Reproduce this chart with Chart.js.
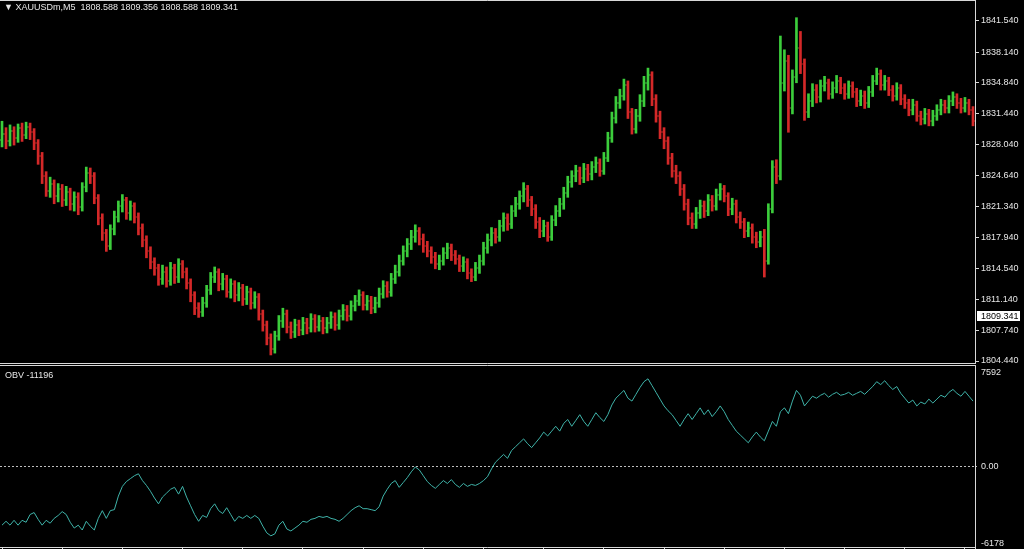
<!DOCTYPE html>
<html><head><meta charset="utf-8">
<script src="https://cdn.jsdelivr.net/npm/chart.js@4.4.0/dist/chart.umd.min.js"></script>
<style>
html,body{margin:0;padding:0;background:#000;width:1024px;height:549px;overflow:hidden;}
canvas{position:absolute;left:0;}
#price{top:0;}
#obv{top:365px;}
.lbl{position:absolute;color:#e6e6e6;font:9px "Liberation Sans",Arial,sans-serif;white-space:pre;line-height:10px;}
</style></head><body>
<canvas id="price" width="1024" height="364"></canvas>
<canvas id="obv" width="1024" height="184"></canvas>
<div class="lbl" style="left:4px;top:2px">▼ XAUUSDm,M5  1808.588 1809.356 1808.588 1809.341</div>
<div class="lbl" style="left:5px;top:370px">OBV -11196</div>
<script>
const opens = [1828.6,1829.2,1828.4,1829.5,1828.8,1829.9,1829.1,1830.0,1829.4,1828.2,
1826.8,1824.6,1823.0,1823.8,1822.4,1823.2,1822.0,1822.9,1821.6,1822.3,
1821.2,1823.4,1825.0,1824.6,1822.2,1820.0,1818.4,1817.0,1818.8,1820.2,
1821.4,1822.0,1820.6,1821.3,1820.2,1819.0,1817.6,1816.4,1815.2,1814.6,
1813.4,1814.2,1813.2,1814.6,1813.6,1815.0,1814.2,1813.0,1811.6,1810.2,
1809.8,1810.8,1812.2,1813.6,1814.2,1812.8,1813.4,1812.0,1812.8,1811.6,
1812.4,1811.2,1812.0,1810.8,1811.4,1809.6,1808.4,1807.0,1805.8,1807.2,
1808.8,1809.6,1808.2,1807.6,1808.4,1807.8,1808.6,1808.0,1809.0,1808.2,
1808.8,1808.0,1808.6,1809.2,1808.4,1809.4,1810.0,1809.4,1810.4,1811.0,
1811.6,1810.6,1811.0,1810.2,1810.8,1811.8,1812.6,1812.0,1813.4,1814.2,
1815.4,1816.4,1817.2,1818.0,1818.6,1817.8,1817.0,1816.4,1815.8,1815.0,
1815.4,1816.2,1816.8,1816.0,1815.6,1814.8,1815.2,1814.0,1813.6,1814.6,
1815.4,1816.8,1817.6,1818.4,1818.0,1819.2,1820.0,1819.4,1820.8,1821.6,
1822.4,1823.2,1822.0,1821.0,1819.6,1818.6,1819.2,1818.0,1819.8,1820.8,
1821.6,1822.8,1824.0,1824.6,1825.2,1824.4,1825.4,1824.8,1825.6,1826.0,
1825.2,1826.6,1828.8,1831.0,1832.6,1833.4,1834.6,1831.6,1829.8,1831.2,
1832.8,1834.8,1835.6,1833.0,1831.2,1829.4,1828.4,1826.6,1825.2,1824.6,
1823.2,1821.6,1820.0,1819.4,1820.6,1821.4,1820.8,1822.0,1821.4,1822.6,
1823.2,1822.4,1821.0,1821.6,1820.2,1819.6,1818.6,1819.0,1818.0,1817.4,
1818.0,1815.4,1821.0,1825.6,1824.6,1834.8,1837.2,1832.0,1835.4,1838.6,
1836.8,1831.6,1832.8,1834.0,1833.2,1834.4,1834.8,1833.6,1834.2,1835.0,
1834.2,1833.6,1834.4,1833.8,1832.8,1833.4,1832.6,1833.8,1835.0,1835.8,
1834.6,1835.0,1834.0,1833.4,1834.2,1833.0,1832.6,1831.8,1832.4,1831.2,
1830.8,1831.4,1830.6,1831.2,1831.8,1832.4,1832.0,1832.8,1833.2,1832.6,
1832.0,1832.6,1831.8];

const highs = [1830.6,1829.9,1830.2,1830.0,1830.3,1830.4,1830.5,1830.4,1829.8,1828.6,
1827.2,1825.1,1824.5,1824.2,1823.8,1823.7,1823.5,1823.3,1822.9,1822.8,
1823.9,1825.6,1825.5,1825.0,1822.6,1820.5,1818.8,1819.3,1820.8,1821.9,
1822.6,1822.3,1821.9,1821.7,1820.6,1819.4,1818.1,1816.9,1815.7,1815.0,
1814.9,1814.7,1815.2,1815.0,1815.6,1815.4,1814.6,1813.4,1812.0,1810.8,
1811.4,1812.7,1814.1,1814.7,1814.5,1814.0,1813.8,1813.4,1813.2,1813.0,
1812.8,1812.6,1812.4,1812.0,1811.8,1810.0,1808.8,1807.4,1807.7,1809.4,
1810.2,1810.0,1808.7,1809.0,1808.9,1809.2,1809.1,1809.6,1809.5,1809.4,
1809.2,1809.2,1809.8,1809.7,1810.0,1810.6,1810.5,1811.0,1811.6,1812.2,
1812.0,1811.6,1811.5,1811.4,1812.4,1813.2,1813.1,1814.0,1814.9,1816.0,
1817.0,1817.8,1818.7,1819.3,1819.0,1818.3,1817.5,1816.9,1816.3,1816.0,
1816.8,1817.3,1817.2,1816.5,1816.0,1815.8,1815.6,1814.5,1815.2,1816.0,
1817.4,1818.3,1819.0,1818.9,1819.8,1820.6,1820.5,1821.4,1822.3,1823.0,
1823.9,1823.6,1822.4,1821.5,1820.1,1819.8,1819.6,1820.3,1821.4,1822.2,
1823.4,1824.6,1825.2,1825.8,1825.6,1826.0,1825.9,1826.2,1826.7,1826.5,
1827.2,1829.4,1831.6,1833.3,1834.1,1835.2,1835.0,1832.0,1831.9,1833.5,
1835.5,1836.4,1836.0,1833.5,1831.7,1829.9,1828.9,1827.1,1825.8,1825.1,
1823.7,1822.1,1820.6,1821.2,1822.0,1821.9,1822.6,1822.5,1823.2,1823.8,
1823.6,1822.8,1822.2,1822.0,1820.7,1820.0,1819.6,1819.4,1818.5,1818.6,
1818.8,1821.6,1826.3,1826.4,1839.9,1838.4,1837.8,1836.2,1841.9,1840.4,
1837.4,1833.6,1834.7,1834.6,1835.1,1835.5,1835.2,1834.9,1835.6,1835.4,
1834.7,1835.0,1834.9,1834.2,1834.0,1833.9,1834.4,1835.6,1836.4,1836.2,
1835.6,1835.4,1834.5,1834.8,1834.6,1833.5,1833.0,1833.0,1832.8,1831.7,
1832.0,1831.9,1831.8,1832.4,1833.0,1832.9,1833.4,1833.8,1833.6,1833.1,
1833.2,1833.0,1832.2];

const lows = [1827.8,1827.6,1827.9,1828.0,1828.3,1828.4,1828.7,1828.6,1827.5,1825.9,
1823.8,1822.4,1822.3,1821.6,1821.8,1821.3,1821.4,1820.9,1820.8,1820.4,
1820.8,1822.9,1823.8,1821.6,1819.3,1817.6,1816.4,1816.6,1818.2,1819.6,
1820.7,1819.9,1819.8,1819.5,1818.2,1816.9,1815.7,1814.5,1813.8,1812.7,
1812.8,1812.5,1812.7,1812.9,1813.0,1813.5,1812.3,1810.9,1809.5,1809.2,
1809.3,1810.3,1811.7,1813.0,1812.1,1812.2,1811.4,1811.3,1810.9,1811.0,
1810.5,1810.6,1810.1,1810.2,1808.9,1807.7,1806.2,1805.1,1805.3,1806.7,
1808.1,1807.5,1806.9,1807.0,1807.2,1807.3,1807.4,1807.6,1807.6,1807.7,
1807.4,1807.5,1808.0,1807.8,1807.9,1808.9,1808.8,1808.9,1809.9,1810.5,
1810.0,1810.0,1809.6,1809.7,1810.3,1811.3,1811.4,1811.5,1812.9,1813.7,
1814.9,1815.8,1816.6,1817.4,1817.1,1816.3,1815.8,1815.1,1814.5,1814.4,
1814.9,1815.6,1815.4,1815.0,1814.2,1814.2,1813.4,1813.1,1813.2,1814.0,
1814.9,1816.2,1817.0,1817.3,1817.5,1818.6,1818.7,1818.9,1820.2,1821.0,
1821.8,1821.3,1820.3,1818.9,1817.9,1818.0,1817.5,1817.6,1819.2,1820.2,
1821.0,1822.3,1823.4,1824.0,1823.7,1823.9,1824.1,1824.2,1825.0,1824.6,
1824.8,1826.2,1828.3,1830.4,1832.0,1832.9,1830.9,1829.2,1829.3,1830.6,
1832.2,1834.0,1832.3,1830.5,1828.7,1827.6,1825.9,1824.5,1823.8,1822.5,
1820.9,1819.3,1818.9,1818.9,1820.0,1820.1,1820.3,1820.8,1820.9,1822.0,
1821.8,1820.3,1820.4,1819.5,1818.9,1817.9,1818.0,1817.3,1816.8,1816.9,
1813.6,1815.0,1820.6,1823.8,1824.2,1833.9,1829.4,1831.4,1834.8,1835.8,
1830.7,1831.0,1832.2,1832.6,1832.7,1833.9,1833.0,1833.1,1833.7,1833.6,
1833.0,1833.1,1833.2,1832.2,1832.3,1832.0,1832.1,1833.3,1834.6,1834.0,
1834.0,1833.4,1832.8,1832.9,1832.4,1832.0,1831.2,1831.3,1830.6,1830.2,
1830.3,1830.1,1830.1,1830.7,1831.3,1831.5,1831.5,1832.3,1832.0,1831.5,
1831.6,1831.3,1830.1];

const closes = [1829.2,1828.4,1829.5,1828.8,1829.9,1829.1,1830.0,1829.4,1828.2,1826.8,
1824.6,1823.0,1823.8,1822.4,1823.2,1822.0,1822.9,1821.6,1822.3,1821.2,
1823.4,1825.0,1824.6,1822.2,1820.0,1818.4,1817.0,1818.8,1820.2,1821.4,
1822.0,1820.6,1821.3,1820.2,1819.0,1817.6,1816.4,1815.2,1814.6,1813.4,
1814.2,1813.2,1814.6,1813.6,1815.0,1814.2,1813.0,1811.6,1810.2,1809.8,
1810.8,1812.2,1813.6,1814.2,1812.8,1813.4,1812.0,1812.8,1811.6,1812.4,
1811.2,1812.0,1810.8,1811.4,1809.6,1808.4,1807.0,1805.8,1807.2,1808.8,
1809.6,1808.2,1807.6,1808.4,1807.8,1808.6,1808.0,1809.0,1808.2,1808.8,
1808.0,1808.6,1809.2,1808.4,1809.4,1810.0,1809.4,1810.4,1811.0,1811.6,
1810.6,1811.0,1810.2,1810.8,1811.8,1812.6,1812.0,1813.4,1814.2,1815.4,
1816.4,1817.2,1818.0,1818.6,1817.8,1817.0,1816.4,1815.8,1815.0,1815.4,
1816.2,1816.8,1816.0,1815.6,1814.8,1815.2,1814.0,1813.6,1814.6,1815.4,
1816.8,1817.6,1818.4,1818.0,1819.2,1820.0,1819.4,1820.8,1821.6,1822.4,
1823.2,1822.0,1821.0,1819.6,1818.6,1819.2,1818.0,1819.8,1820.8,1821.6,
1822.8,1824.0,1824.6,1825.2,1824.4,1825.4,1824.8,1825.6,1826.0,1825.2,
1826.6,1828.8,1831.0,1832.6,1833.4,1834.6,1831.6,1829.8,1831.2,1832.8,
1834.8,1835.6,1833.0,1831.2,1829.4,1828.4,1826.6,1825.2,1824.6,1823.2,
1821.6,1820.0,1819.4,1820.6,1821.4,1820.8,1822.0,1821.4,1822.6,1823.2,
1822.4,1821.0,1821.6,1820.2,1819.6,1818.6,1819.0,1818.0,1817.4,1818.0,
1815.4,1821.0,1825.6,1824.6,1834.8,1837.2,1832.0,1835.4,1838.6,1836.8,
1831.6,1832.8,1834.0,1833.2,1834.4,1834.8,1833.6,1834.2,1835.0,1834.2,
1833.6,1834.4,1833.8,1832.8,1833.4,1832.6,1833.8,1835.0,1835.8,1834.6,
1835.0,1834.0,1833.4,1834.2,1833.0,1832.6,1831.8,1832.4,1831.2,1830.8,
1831.4,1830.6,1831.2,1831.8,1832.4,1832.0,1832.8,1833.2,1832.6,1832.0,
1832.6,1831.8,1830.6];

const obv = [-4698,-4385,-4698,-4306,-4698,-4306,-4463,-3837,-3680,-4228,
-4698,-4306,-4541,-4150,-3915,-3602,-3837,-4463,-4933,-4698,
-5090,-4385,-4776,-5090,-4150,-3524,-4150,-3524,-3445,-2349,
-1566,-1175,-940,-705,-548,-1096,-1488,-1958,-2506,-2975,
-2427,-2114,-1801,-1644,-2192,-1566,-2427,-3132,-3837,-4385,
-3915,-4072,-3367,-2975,-3524,-3758,-3289,-3837,-4385,-3993,
-4150,-3915,-4150,-3915,-4150,-4776,-5324,-5559,-5403,-4698,
-4385,-5011,-5168,-4933,-4698,-4385,-4463,-4228,-4150,-3993,
-4072,-3993,-4150,-4228,-4385,-4150,-3837,-3524,-3289,-3132,
-3367,-3367,-3445,-3524,-3210,-2349,-1801,-1331,-1096,-1644,
-1253,-861,-392,0,-235,-705,-1175,-1488,-1723,-1409,
-1096,-1331,-1018,-1409,-1644,-1331,-1566,-1409,-1488,-1331,
-1096,-783,-157,392,705,1018,705,1331,1644,1958,
2271,1879,1566,1958,2349,2819,2506,2897,3289,2897,
3524,3837,3289,3758,4228,3680,3289,3837,4385,3993,
3680,4228,5011,5559,5873,6186,5559,5324,5873,6421,
6890,7125,6577,6029,5481,4933,4541,4228,3758,3289,
3837,4307,3837,4307,4776,4228,4620,4072,4463,4933,
4463,3837,3367,2897,2584,2271,1958,2427,2819,2427,
2114,2897,3680,3289,4463,4776,4307,5324,6186,5794,
4933,5324,5716,5559,5794,5951,5638,5873,6029,5794,
5873,6029,5794,5951,6107,5873,6186,6499,6890,6656,
6969,6577,6264,6499,5951,5559,5168,5403,4933,5246,
5090,5481,5168,5481,5794,5638,6029,6264,5951,5716,
6107,5716,5324];

const priceTicks = [1841.54,1838.14,1834.84,1831.44,1828.04,1824.64,1821.34,1817.94,1814.54,1811.14,1807.74,1804.44];
const obvTicks = [7592, 0, -6178];
const obvTickLabels = ['7592', '0.00', '-6178'];
const currentPrice = 1809.341;

Chart.defaults.font.family = '"Liberation Sans", Arial, sans-serif';
Chart.defaults.font.size = 9;
Chart.defaults.color = '#e6e6e6';

const upColor = '#3ccd3c', downColor = '#d42828', frameColor = '#d8d8d8';
const barColors = closes.map((c, i) => c >= opens[i] ? upColor : downColor);
const labels = closes.map((_, i) => i);

const noPad = s => { s.paddingTop = 0; s.paddingBottom = 0; s.paddingLeft = 0; s.paddingRight = 0; };

const framePlugin = {
  id: 'frame',
  afterDraw(chart) {
    const {ctx, chartArea: a} = chart;
    ctx.save();
    ctx.strokeStyle = frameColor; ctx.lineWidth = 1;
    ctx.beginPath();
    ctx.moveTo(0, a.top - 0.5); ctx.lineTo(a.right + 0.5, a.top - 0.5);
    ctx.moveTo(0, a.bottom + 0.5); ctx.lineTo(a.right + 0.5, a.bottom + 0.5);
    ctx.moveTo(a.right + 0.5, 0); ctx.lineTo(a.right + 0.5, chart.height);
    ctx.stroke();
    ctx.restore();
  }
};

const ohlcTicks = {
  id: 'ohlcTicks',
  afterDatasetsDraw(chart) {
    const meta = chart.getDatasetMeta(0), ys = chart.scales.y, ctx = chart.ctx;
    ctx.save();
    meta.data.forEach((el, i) => {
      ctx.fillStyle = barColors[i];
      const x = el.x;
      ctx.fillRect(x - 2, Math.round(ys.getPixelForValue(opens[i])) - 0.5, 1, 1);
      ctx.fillRect(x + 1, Math.round(ys.getPixelForValue(closes[i])) - 0.5, 1, 1);
    });
    ctx.restore();
  }
};

const priceTag = {
  id: 'priceTag',
  afterDraw(chart) {
    const ys = chart.scales.y, ctx = chart.ctx;
    const y = Math.round(ys.getPixelForValue(currentPrice));
    ctx.save();
    ctx.fillStyle = '#ffffff';
    ctx.fillRect(ys.left + 2, y - 5, 43, 10);
    ctx.fillStyle = '#000000';
    ctx.font = '9px "Liberation Sans", Arial, sans-serif';
    ctx.textBaseline = 'middle';
    ctx.fillText(currentPrice.toFixed(3), ys.left + 6, y + 0.5);
    ctx.restore();
  }
};

new Chart(document.getElementById('price'), {
  type: 'bar',
  data: {
    labels,
    datasets: [{
      data: lows.map((l, i) => [l, highs[i]]),
      backgroundColor: barColors,
      borderWidth: 0,
      barThickness: 2
    }]
  },
  options: {
    responsive: false, animation: false, devicePixelRatio: 1,
    layout: {padding: {top: 1, bottom: 1, left: 0, right: 0}},
    plugins: {legend: {display: false}, tooltip: {enabled: false}},
    scales: {
      x: {display: false, offset: true},
      y: {
        position: 'right', min: 1804.222, max: 1843.722,
        afterBuildTicks: s => { s.ticks = priceTicks.map(v => ({value: v})); },
        afterFit: s => { s.width = 49; noPad(s); },
        ticks: {autoSkip: false, padding: 2, color: '#e6e6e6', callback: v => Number(v).toFixed(3)},
        grid: {drawOnChartArea: false, drawTicks: true, tickLength: 4, color: frameColor},
        border: {display: false}
      }
    }
  },
  plugins: [framePlugin, ohlcTicks, priceTag]
});

new Chart(document.getElementById('obv'), {
  type: 'line',
  data: {
    labels,
    datasets: [{
      data: obv,
      borderColor: '#3fb3a9',
      borderWidth: 1,
      pointRadius: 0,
      tension: 0
    }]
  },
  options: {
    responsive: false, animation: false, devicePixelRatio: 1,
    layout: {padding: {top: 1, bottom: 0, left: 0, right: 0}},
    plugins: {legend: {display: false}, tooltip: {enabled: false}},
    scales: {
      x: {
        offset: true,
        afterBuildTicks: s => { s.ticks = s.ticks.filter(t => t.value % 15 === 0); },
        afterFit: s => { s.height = 2; noPad(s); },
        ticks: {display: false, autoSkip: false},
        grid: {drawOnChartArea: false, drawTicks: true, tickLength: 3, color: frameColor, offset: false},
        border: {display: false}
      },
      y: {
        position: 'right', min: -6462, max: 8158,
        afterBuildTicks: s => { s.ticks = obvTicks.map(v => ({value: v})); },
        afterFit: s => { s.width = 49; noPad(s); },
        ticks: {autoSkip: false, padding: 2, color: '#e6e6e6', callback: (v, i) => obvTickLabels[i]},
        grid: {
          drawOnChartArea: true, drawTicks: true, tickLength: 4,
          color: c => (c.tick && c.tick.value === 0) ? '#bdbdbd' : 'rgba(0,0,0,0)',
          tickBorderDash: [2, 2]
        },
        border: {display: false, dash: [2, 2]}
      }
    }
  },
  plugins: [framePlugin]
});
</script>
</body></html>
